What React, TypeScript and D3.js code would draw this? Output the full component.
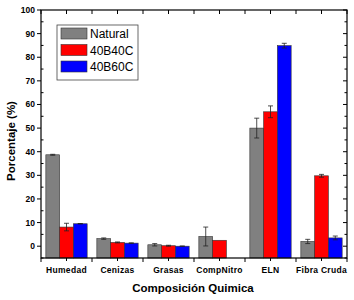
import React from "react";
import * as d3 from "d3";

const categories = ["Humedad", "Cenizas", "Grasas", "CompNitro", "ELN", "Fibra Cruda"];
const seriesNames = ["Natural", "40B40C", "40B60C"];
const seriesColors = ["#808080", "#ff0000", "#0000ff"];
const naturalValues = [38.7, 3.2, 0.6, 4.1, 50.0, 2.0];
const naturalErrors = [0.2, 0.3, 0.5, 4.0, 4.2, 0.9];
const b40Values = [8.1, 1.6, 0.2, 2.5, 56.9, 29.8];
const b40Errors = [1.6, 0.2, 0.2, 0, 2.5, 0.6];
const b60Values: (number | null)[] = [9.5, 1.3, 0.0, null, 84.9, 3.5];
const b60Errors = [0.1, 0.1, 0.1, 0, 1.0, 0.8];
const yTicks = [0, 10, 20, 30, 40, 50, 60, 70, 80, 90, 100];
const yMinorTicks = [-5, 5, 15, 25, 35, 45, 55, 65, 75, 85, 95];

const W = 354, H = 300;
const L = 41, R = 347, T = 10, B = 258;

export default function App() {
  const x = d3.scaleBand<string>().domain(categories).range([L, R]).padding(0);
  const y = d3.scaleLinear().domain([-5, 100]).range([B, T]);
  const bw = x.bandwidth();
  const barW = bw * 0.27;
  const series = [
    { vals: naturalValues as (number | null)[], errs: naturalErrors },
    { vals: b40Values as (number | null)[], errs: b40Errors },
    { vals: b60Values, errs: b60Errors },
  ];
  const font = "Arial, 'Liberation Sans', sans-serif";
  const boundaries = d3.range(categories.length + 1).map((i) => L + i * bw);
  const centers = categories.map((c) => (x(c) as number) + bw / 2);

  return (
    <svg width={W} height={H} style={{ position: "absolute", left: 0, top: 0, background: "#fff" }} fontFamily={font}>
      {/* bars */}
      {series.map((s, si) =>
        categories.map((c, ci) => {
          const v = s.vals[ci];
          if (v === null || v === undefined) return null;
          const x0 = (x(c) as number) + bw / 2 - 1.5 * barW + si * barW;
          return (
            <rect key={`b${si}-${ci}`} x={x0} y={y(v)} width={barW} height={B - y(v)}
              fill={seriesColors[si]} stroke="#333" strokeWidth={0.6} />
          );
        })
      )}
      {/* error bars */}
      {series.map((s, si) =>
        categories.map((c, ci) => {
          const v = s.vals[ci];
          const e = s.errs[ci];
          if (v === null || v === undefined || !e) return null;
          const cx = (x(c) as number) + bw / 2 - 1.5 * barW + si * barW + barW / 2;
          return (
            <g key={`e${si}-${ci}`} stroke="#222" strokeWidth={0.8}>
              <line x1={cx} x2={cx} y1={y(v + e)} y2={y(v - e)} />
              <line x1={cx - 2.5} x2={cx + 2.5} y1={y(v + e)} y2={y(v + e)} />
              <line x1={cx - 2.5} x2={cx + 2.5} y1={y(v - e)} y2={y(v - e)} />
            </g>
          );
        })
      )}
      {/* frame */}
      <rect x={L} y={T} width={R - L} height={B - T} fill="none" stroke="#000" strokeWidth={1.2} />
      {/* left axis ticks */}
      {yTicks.map((t) => (
        <g key={`yl${t}`}>
          <line x1={L - 4} x2={L} y1={y(t)} y2={y(t)} stroke="#000" strokeWidth={1} />
          <text x={L - 6} y={y(t)} dy="0.35em" textAnchor="end" fontSize={8.5} fontWeight="bold">{t}</text>
          <line x1={R} x2={R - 4} y1={y(t)} y2={y(t)} stroke="#000" strokeWidth={1} />
        </g>
      ))}
      {yMinorTicks.map((t) => (
        <g key={`ym${t}`}>
          <line x1={L} x2={L + 2.5} y1={y(t)} y2={y(t)} stroke="#000" strokeWidth={1} />
          <line x1={R} x2={R - 2.5} y1={y(t)} y2={y(t)} stroke="#000" strokeWidth={1} />
        </g>
      ))}
      {/* x ticks */}
      {boundaries.map((bx, i) => (
        <g key={`xb${i}`}>
          <line x1={bx} x2={bx} y1={B} y2={B + 4} stroke="#000" strokeWidth={1} />
          <line x1={bx} x2={bx} y1={T} y2={T + 4} stroke="#000" strokeWidth={1} />
        </g>
      ))}
      {centers.map((cx, i) => (
        <g key={`xc${i}`}>
          <line x1={cx} x2={cx} y1={B} y2={B + 3} stroke="#000" strokeWidth={1} />
          <line x1={cx} x2={cx} y1={T} y2={T + 4} stroke="#000" strokeWidth={1} />
          <text x={cx} y={273} textAnchor="middle" fontSize={8.5} fontWeight="bold" letterSpacing={0.3}>{categories[i]}</text>
        </g>
      ))}
      {/* axis titles */}
      <text x={193} y={292} textAnchor="middle" fontSize={11.5} fontWeight="bold">Composición Quimica</text>
      <text transform={`translate(15,${(T + B) / 2 + 7}) rotate(-90)`} textAnchor="middle" fontSize={11.5} fontWeight="bold">Porcentaje (%)</text>
      {/* legend */}
      <g>
        <rect x={57} y={25} width={81} height={55} fill="#fff" stroke="#444" strokeWidth={0.8} />
        {seriesNames.map((n, i) => (
          <g key={`lg${i}`}>
            <rect x={61} y={28 + i * 16.5} width={26} height={11} fill={seriesColors[i]} stroke="#333" strokeWidth={0.6} />
            <text x={90} y={33.5 + i * 16.5} dy="0.38em" fontSize={12}>{n}</text>
          </g>
        ))}
      </g>
    </svg>
  );
}
